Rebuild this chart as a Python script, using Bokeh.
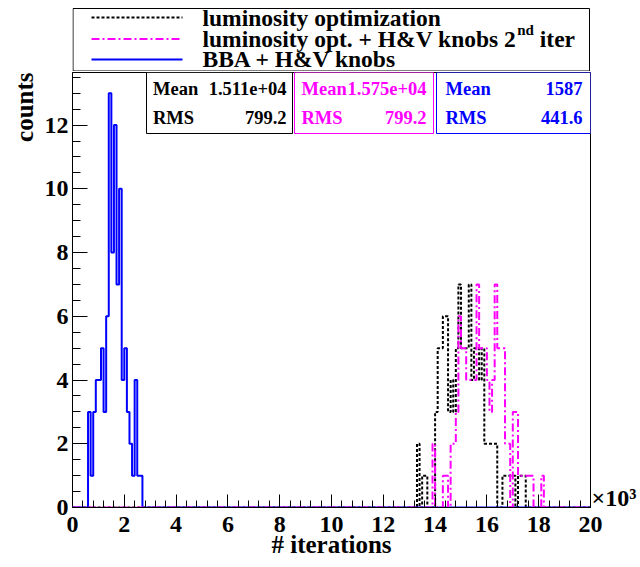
import math
from bokeh.plotting import figure
from bokeh.models import (Range1d, FixedTicker, Label, BoxAnnotation, Title,
                          LinearAxis)
from bokeh.layouts import column
from bokeh.embed import file_html
from bokeh.resources import INLINE

# ---------------- data ----------------
bin_width = 100          # iterations per bin
n_bins = 200             # 0 .. 20000

blue_first_bin = 6       # BBA + H&V knobs, first bin index
blue_counts = [3, 1, 3, 4, 4, 5, 3, 6, 13, 8, 12, 7, 10, 4, 5, 3, 2, 1, 4, 1, 1]

black_first_bin = 133    # luminosity optimization
black_counts = [2, 0, 1, 1, 0, 0, 0, 3, 5, 5, 6, 6, 3, 4, 3, 5, 7, 5, 5, 5,
                7, 4, 5, 5, 4, 5, 2, 2, 2, 2, 2, 0, 0, 1, 1, 1, 1, 1, 0, 1,
                1, 1]

magenta_first_bin = 139  # luminosity opt. + H&V knobs 2nd iter
magenta_counts = [2, 0, 0, 0, 1, 1, 0, 2, 2, 3, 6, 5, 5, 4, 4, 4, 4, 7, 5, 5,
                  5, 4, 3, 4, 7, 5, 5, 5, 2, 2, 0, 3, 3, 1, 1, 1, 1, 1, 1, 0,
                  0, 0, 1]

legend_labels = ["luminosity optimization",
                 "luminosity opt. + H&V knobs 2",
                 "BBA + H&V knobs"]
stat_means = ["1.511e+04", "1.575e+04", "1587"]
stat_rms = ["799.2", "799.2", "441.6"]

x_ticks = list(range(0, 20001, 2000))
x_tick_labels = [str(t // 1000) for t in x_ticks]
x_minor = list(range(0, 20001, 400))
y_ticks = [0, 2, 4, 6, 8, 10, 12]
y_minor = [i * 0.5 for i in range(0, 28)]

# ---------------- layout ----------------
W = 640
TOP_H = 71
MAIN_H = 567 - TOP_H
FL, FR = 72, 590
FT, FB = TOP_H + 1, 507          # page coordinates of the frame
X0, X1 = 0, n_bins * bin_width
Y0, Y1 = 0, 13.65
TXT_SHIFT = 7                    # rendered baseline offset correction

def sx(px):
    return X0 + (px - FL) / (FR - FL) * (X1 - X0)

def sy(py):
    return Y0 + (FB - py) / (FB - FT) * (Y1 - Y0)

FONT = "Liberation Serif"
styles = [
    ("black", "3 2"),
    ("#ff00ff", "8 3 2 3"),
    ("#0000ff", "solid"),
]

# ---------------- legend strip (separate figure on top, frame aligned with main) ----
top = figure(width=W, height=TOP_H, x_range=Range1d(FL, FR), y_range=Range1d(TOP_H, 0),
             output_backend="svg", toolbar_location=None, title=None,
             x_axis_type=None, y_axis_type=None, min_border=0,
             min_border_left=FL, min_border_right=W - FR)
top.outline_line_color = None
top.background_fill_color = "white"
top.border_fill_color = "white"
top.add_layout(BoxAnnotation(left=FL + 0.5, right=589, top=8, bottom=TOP_H - 0.5,
                             fill_color=None, fill_alpha=0, line_color="black",
                             line_width=1, line_alpha=1))
row_line_y = [17, 38.5, 59]
row_base_y = [24, 45.5, 65]
LEG_FS = 23.5
for i, (col, dash) in enumerate(styles):
    top.line(x=[91, 182], y=[row_line_y[i]] * 2, line_color=col, line_width=2,
             line_dash=dash)
    top.add_layout(Label(x=202, y=row_base_y[i] - TXT_SHIFT, text=legend_labels[i],
                         text_font=FONT, text_font_style="bold",
                         text_font_size=f"{LEG_FS}px", text_align="left",
                         text_baseline="alphabetic", text_color="black"))
x_end2 = 202 + 13.35 * LEG_FS
top.add_layout(Label(x=x_end2 + 1, y=row_base_y[1] - 9 - TXT_SHIFT, text="nd",
                     text_font=FONT, text_font_style="bold", text_font_size="15px",
                     text_align="left", text_baseline="alphabetic", text_color="black"))
top.add_layout(Label(x=x_end2 + 1 + 16.7 + 0.25 * LEG_FS, y=row_base_y[1] - TXT_SHIFT,
                     text="iter",
                     text_font=FONT, text_font_style="bold", text_font_size=f"{LEG_FS}px",
                     text_align="left", text_baseline="alphabetic", text_color="black"))

# ---------------- main histogram figure ----------------
p = figure(width=W, height=MAIN_H, x_range=Range1d(X0, X1), y_range=Range1d(Y0, Y1),
           output_backend="svg", toolbar_location=None, title=None,
           min_border_left=FL, min_border_right=W - FR,
           min_border_top=1, min_border_bottom=567 - FB)
p.background_fill_color = "white"
p.border_fill_color = "white"
p.grid.visible = False
p.outline_line_color = "black"
p.outline_line_width = 1

for ax in (p.xaxis[0], p.yaxis[0]):
    ax.axis_line_color = "black"
    ax.axis_line_width = 1
    ax.major_tick_line_color = "black"
    ax.minor_tick_line_color = "black"
    ax.major_tick_out = 0
    ax.minor_tick_out = 0
    ax.major_label_text_font = FONT
    ax.major_label_text_font_style = "bold"
    ax.major_label_text_font_size = "24px"
    ax.major_label_text_color = "black"

p.xaxis.ticker = FixedTicker(ticks=x_ticks, minor_ticks=x_minor)
p.xaxis.major_label_overrides = {t: s for t, s in zip(x_ticks, x_tick_labels)}
p.xaxis.major_tick_in = 13
p.xaxis.minor_tick_in = 7
p.xaxis.major_label_standoff = 9
p.xaxis.axis_label = "# iterations"
p.xaxis.axis_label_text_font = FONT
p.xaxis.axis_label_text_font_style = "bold"
p.xaxis.axis_label_text_font_size = "25px"
p.xaxis.axis_label_text_color = "black"
p.xaxis.axis_label_standoff = -4

p.yaxis.ticker = FixedTicker(ticks=y_ticks, minor_ticks=y_minor)
p.yaxis.major_tick_in = 15
p.yaxis.minor_tick_in = 8
p.yaxis.major_label_standoff = 4

p.add_layout(Title(text="counts", align="right", text_font=FONT,
                   text_font_style="bold", text_font_size="25px",
                   text_color="black", standoff=8), "left")

# "x10^3" multiplier shown as a label-only axis on the right
mult_pos = 0.3
rax = LinearAxis(ticker=FixedTicker(ticks=[mult_pos], minor_ticks=[]),
                 major_label_overrides={mult_pos: "\u00d710\u00b3"})
rax.axis_line_color = None
rax.major_tick_line_color = None
rax.minor_tick_line_color = None
rax.major_tick_out = 0
rax.minor_tick_out = 0
rax.major_tick_in = 0
rax.minor_tick_in = 0
rax.major_label_standoff = 1
rax.major_label_text_font = FONT
rax.major_label_text_font_style = "bold"
rax.major_label_text_font_size = "24px"
rax.major_label_text_color = "black"
p.add_layout(rax, "right")


def full_hist(first_bin, counts):
    arr = [0] * n_bins
    for i, c in enumerate(counts):
        arr[first_bin + i] = c
    edges = [i * bin_width for i in range(n_bins + 1)]
    return edges, arr + [0]

ex, ey = full_hist(black_first_bin, black_counts)
p.step(x=ex, y=ey, mode="after", line_color=styles[0][0], line_width=2, line_dash=styles[0][1])
ex, ey = full_hist(blue_first_bin, blue_counts)
p.step(x=ex, y=ey, mode="after", line_color=styles[2][0], line_width=2)
ex, ey = full_hist(magenta_first_bin, magenta_counts)
p.step(x=ex, y=ey, mode="after", line_color=styles[1][0], line_width=2, line_dash=styles[1][1])

# ---------------- stats boxes ----------------
boxes = [(146, 292, "black"), (294, 433, "#ff00ff"), (436, 590, "#0000ff")]
name_left = [152.5, 301, 445]
val_right = [286, 426, 582]
for i, (l, r, col) in enumerate(boxes):
    p.add_layout(BoxAnnotation(left=sx(l), right=sx(r), top=sy(FT), bottom=sy(133),
                               fill_color="white", fill_alpha=1, line_color=col,
                               line_width=1, line_alpha=1))
    for j, (nm, val) in enumerate((("Mean", stat_means[i]), ("RMS", stat_rms[i]))):
        base = [95, 124][j] - TXT_SHIFT
        p.add_layout(Label(x=sx(name_left[i]), y=sy(base), text=nm,
                           text_font=FONT, text_font_style="bold", text_font_size="18.5px",
                           text_align="left", text_baseline="alphabetic", text_color=col))
        p.add_layout(Label(x=sx(val_right[i]), y=sy(base), text=val,
                           text_font=FONT, text_font_style="bold", text_font_size="18.5px",
                           text_align="right", text_baseline="alphabetic", text_color=col))

layout = column(top, p, spacing=0)
open("out.html", "w").write(file_html(layout, INLINE))
